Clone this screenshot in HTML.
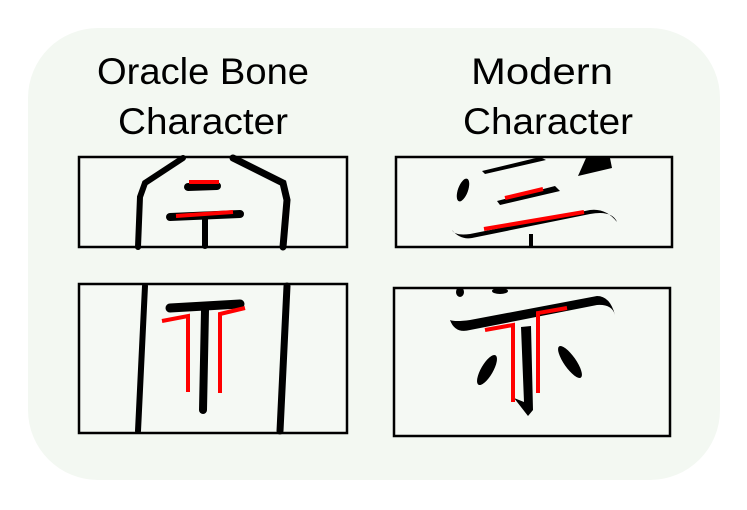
<!DOCTYPE html>
<html><head><meta charset="utf-8"><style>
html,body{margin:0;padding:0;background:#fff;}
svg{display:block;}
text{font-family:"Liberation Sans",sans-serif;font-size:37px;fill:#000;}
</style></head><body>
<svg width="747" height="510" viewBox="0 0 747 510">
<rect x="28" y="28" width="692" height="452" rx="70" fill="#f3f8f2"/>
<g text-anchor="middle">
<text x="203" y="84" textLength="212" lengthAdjust="spacingAndGlyphs">Oracle Bone</text><text x="203" y="134" textLength="170" lengthAdjust="spacingAndGlyphs">Character</text></g>
<g text-anchor="middle">
<text x="542" y="84" textLength="142" lengthAdjust="spacingAndGlyphs">Modern</text><text x="548" y="134" textLength="170" lengthAdjust="spacingAndGlyphs">Character</text></g>

<g>
<rect x="79" y="157" width="268" height="90" fill="#f5f9f4" stroke="#000" stroke-width="2.5"/>
<g fill="none" stroke="#000" stroke-linecap="round">
<polyline points="183,158 145,183 140,197 138,247" stroke-width="6"/>
<polyline points="233,158 283,183 287,200 283,247" stroke-width="7"/>
<line x1="188" y1="187" x2="217" y2="186" stroke-width="8"/>
<line x1="170" y1="217" x2="240" y2="214" stroke-width="8"/>
<line x1="205" y1="218" x2="205" y2="246" stroke-width="6"/>
</g>
<g stroke="#f00" stroke-width="4">
<line x1="189" y1="182" x2="219" y2="182"/>
<line x1="176" y1="216" x2="233" y2="212"/>
</g></g>

<g>
<rect x="79" y="284" width="268" height="149" fill="#f5f9f4" stroke="#000" stroke-width="2.5"/>
<g fill="none" stroke="#000" stroke-linecap="round">
<line x1="145" y1="286" x2="138" y2="431" stroke-width="6"/>
<line x1="287" y1="286" x2="280" y2="431" stroke-width="7"/>
<line x1="170" y1="308" x2="240" y2="304" stroke-width="9"/>
<line x1="205" y1="310" x2="203" y2="410" stroke-width="8"/>
</g>
<g fill="none" stroke="#f00" stroke-width="4">
<polyline points="162,321 188,316 188,392"/>
<polyline points="245,308 220,314 220,393"/>
</g></g>

<g>
<rect x="396" y="157" width="276" height="90" fill="#f5f9f4" stroke="#000" stroke-width="2.5"/>
<g fill="#000">
<ellipse cx="463" cy="190" rx="5" ry="12" transform="rotate(20 463 190)"/>
<polygon points="482,171 540,157 546,160 485,174"/>
<polygon points="578,176 586,158 610,158 612,168"/>
<polygon points="497,201 555,186 560,191 500,205"/>
<path d="M452,230 Q460,240 472,238 L590,214 Q612,210 617,222 Q606,208 590,210 L470,234 Q455,236 452,230Z"/>
<rect x="529" y="234" width="4" height="13"/>
</g>
<g stroke="#f00" stroke-width="4">
<line x1="505" y1="198" x2="543" y2="189"/>
<line x1="484" y1="229" x2="584" y2="212"/>
</g></g>

<g>
<rect x="394" y="288" width="276" height="148" fill="#f5f9f4" stroke="#000" stroke-width="2.5"/>
<g fill="#000">
<path d="M450,320 Q455,334 470,330 L597,305 Q612,304 615,315 Q610,296 597,296 L470,320 Q455,322 450,320Z"/>
<ellipse cx="460" cy="292" rx="4" ry="5"/>
<ellipse cx="500" cy="291" rx="8" ry="3"/>
<polygon points="521,327 531,326 533,410 528,416 514,398 524,402"/>
<ellipse cx="487" cy="370" rx="6" ry="17" transform="rotate(30 487 370)"/>
<ellipse cx="570" cy="362" rx="6" ry="19" transform="rotate(-35 570 362)"/>
</g>
<g fill="none" stroke="#f00" stroke-width="4">
<polyline points="485,330 513,325 513,402"/>
<polyline points="567,308 538,313 538,393"/>
</g></g>
</svg>
</body></html>
